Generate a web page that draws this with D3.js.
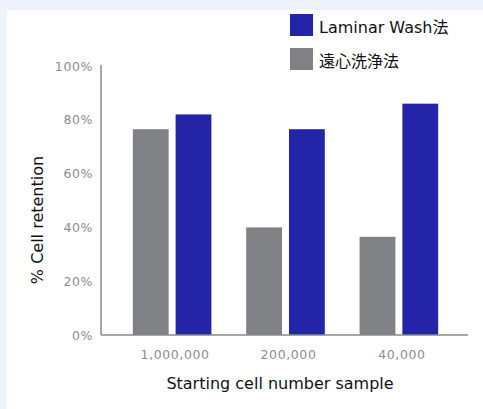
<!DOCTYPE html>
<html>
<head>
<meta charset="utf-8">
<script src="https://cdn.jsdelivr.net/npm/d3@7"></script>
<style>
  body { margin: 0; background: #eef2fb; }
  svg { display: block; }
</style>
</head>
<body>
<script>
const categories = ["1,000,000", "200,000", "40,000"];
const seriesNames = ["遠心洗浄法", "Laminar Wash法"];
const centrifuge = [76.5, 40, 36.5];
const laminar = [82, 76.5, 86];
const yTicks = [0, 20, 40, 60, 80, 100];

const w = 483, h = 409;
const colors = { "遠心洗浄法": "#808184", "Laminar Wash法": "#2424a8" };

const svg = d3.select("body").append("svg")
  .attr("width", w)
  .attr("height", h);

// white panel
svg.append("rect")
  .attr("x", 7).attr("y", 10)
  .attr("width", w - 7).attr("height", h - 10)
  .attr("fill", "#fff");

const pLeft = 101, pRight = 468, pTop = 66, pBottom = 335;

const x = d3.scaleBand()
  .domain(categories)
  .range([pLeft + 2, pRight])
  .paddingInner(0.307)
  .paddingOuter(0.263);

const x1 = d3.scaleBand()
  .domain(seriesNames)
  .range([0, x.bandwidth()])
  .paddingInner(0.163);

const y = d3.scaleLinear()
  .domain([0, 100])
  .range([pBottom, pTop]);

const rows = categories.map((c, i) => ({
  cat: c,
  vals: [
    { name: seriesNames[0], v: centrifuge[i] },
    { name: seriesNames[1], v: laminar[i] }
  ]
}));

const g = svg.selectAll("g.grp")
  .data(rows)
  .enter()
  .append("g")
  .attr("class", "grp")
  .attr("transform", d => "translate(" + x(d.cat) + ",0)");

g.selectAll("rect")
  .data(d => d.vals)
  .enter()
  .append("rect")
  .attr("x", d => x1(d.name))
  .attr("y", d => y(d.v))
  .attr("width", x1.bandwidth())
  .attr("height", d => pBottom - y(d.v))
  .attr("fill", d => colors[d.name]);

// axes
const tickFont = s => s.selectAll("text")
  .attr("fill", "#8c8c8c")
  .style("font-family", "'DejaVu Sans', sans-serif")
  .style("font-size", "12.5px")
  .style("letter-spacing", "0.6px");

const yAxis = d3.axisLeft(y)
  .tickValues(yTicks)
  .tickFormat(d => d + "%")
  .tickSize(0)
  .tickPadding(8);

svg.append("g")
  .attr("transform", "translate(" + pLeft + ",0)")
  .call(yAxis)
  .call(s => s.select(".domain").attr("d", "M0," + (pTop - 1) + "V" + pBottom).attr("stroke", "#8a8a8a").attr("stroke-width", 1.5))
  .call(tickFont);

const xAxis = d3.axisBottom(x).tickSize(0).tickPadding(15);

svg.append("g")
  .attr("transform", "translate(3," + pBottom + ")")
  .call(xAxis)
  .call(s => s.select(".domain").attr("d", "M" + (pLeft - 3) + ",0H" + (pRight - 3)).attr("stroke", "#8a8a8a").attr("stroke-width", 1.5))
  .call(tickFont);

// titles
svg.append("text")
  .attr("x", 280).attr("y", 389)
  .attr("text-anchor", "middle")
  .style("font-family", "'DejaVu Sans', sans-serif")
  .style("font-size", "16px")
  .attr("fill", "#111")
  .text("Starting cell number sample");

svg.append("text")
  .attr("transform", "translate(43,220) rotate(-90)")
  .attr("text-anchor", "middle")
  .style("font-family", "'DejaVu Sans', sans-serif")
  .style("font-size", "16px")
  .attr("fill", "#111")
  .text("% Cell retention");

// legend
const legendNames = [seriesNames[1], seriesNames[0]];
const lg = svg.selectAll("g.leg")
  .data(legendNames)
  .enter()
  .append("g")
  .attr("class", "leg")
  .attr("transform", (d, i) => "translate(290," + (14 + i * 34) + ")");

lg.append("rect")
  .attr("width", 23).attr("height", 22)
  .attr("fill", d => colors[d]);

lg.append("text")
  .attr("x", 29).attr("y", 19)
  .style("font-family", "'DejaVu Sans', 'Noto Sans CJK JP', sans-serif")
  .style("font-size", "16px")
  .attr("fill", "#111")
  .text(d => d);
</script>
</body>
</html>
